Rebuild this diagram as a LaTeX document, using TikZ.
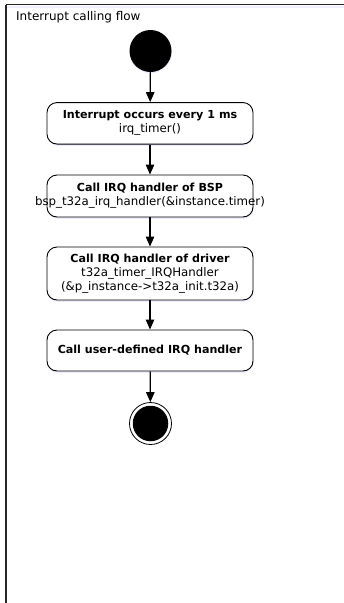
\documentclass[tikz,border=0pt]{standalone}
\usepackage{fontspec}
\setmainfont{DejaVu Sans}
\usetikzlibrary{arrows.meta,shadows}
\newcommand\bt[1]{{\fontsize{11.1}{14}\selectfont\bfseries #1}}
\newcommand\wideline[1]{\makebox[206pt][c]{#1}}
\begin{document}
\begin{tikzpicture}[x=1pt,y=-1pt,
  box/.style={draw=black,line width=0.9pt,rounded corners=10pt,fill=white,
    text width=206pt,align=center,inner sep=0pt,
    drop shadow={shadow xshift=0.5pt,shadow yshift=-1.8pt,fill=blue!7,opacity=1},
    font=\fontsize{11.8}{14}\selectfont},
  flow/.style={draw=black,line width=1.2pt,-{Triangle[length=10pt,width=8.5pt]}},
  frameline/.style={draw=black!85,line width=1.6pt}]
\useasboundingbox (0,0) rectangle (344,603);
\fill[white] (0,0) rectangle (344,603);
% shadow of frame
\draw[blue!6,line width=2pt] (7,7) -- (344,7);
\draw[frameline] (6,4.5) -- (344,4.5);
\draw[frameline] (6,4.5) -- (6,603);
\node[anchor=base west,inner sep=0pt,font=\fontsize{12}{14}\selectfont] (title) at (16,20.5) {Interrupt calling flow};
% start
\node[circle,fill=black,minimum size=42pt,inner sep=0pt,
  drop shadow={shadow xshift=0.5pt,shadow yshift=-1.2pt,fill=blue!7,opacity=1}] (start) at (150.5,51) {};
% boxes
\node[box,minimum height=41.5pt] (b1) at (150,123.3) {\bt{Interrupt occurs every 1 ms}\\irq\_timer()};
\node[box,minimum height=42pt] (b2) at (150,196) {\bt{Call IRQ handler of BSP}\\\wideline{bsp\_t32a\_irq\_handler(\&instance.timer)}};
\node[box,minimum height=53pt] (b3) at (150,273.5) {\bt{Call IRQ handler of driver}\\t32a\_timer\_IRQHandler\\(\&p\_instance->t32a\_init.t32a)};
\node[box,minimum height=41pt] (b4) at (150,350.5) {\bt{Call user-defined IRQ handler}};
% end
\node[circle,draw=black,line width=0.8pt,fill=white,minimum size=42pt,inner sep=0pt] (endo) at (150.5,423.5) {};
\node[circle,fill=black,minimum size=35.5pt,inner sep=0pt] (endi) at (150.5,423.5) {};
% arrows
\draw[flow] (start) -- (b1);
\draw[flow] (b1) -- (b2);
\draw[flow] (b2) -- (b3);
\draw[flow] (b3) -- (b4);
\draw[flow] (b4) -- (endo);
\end{tikzpicture}
\end{document}
